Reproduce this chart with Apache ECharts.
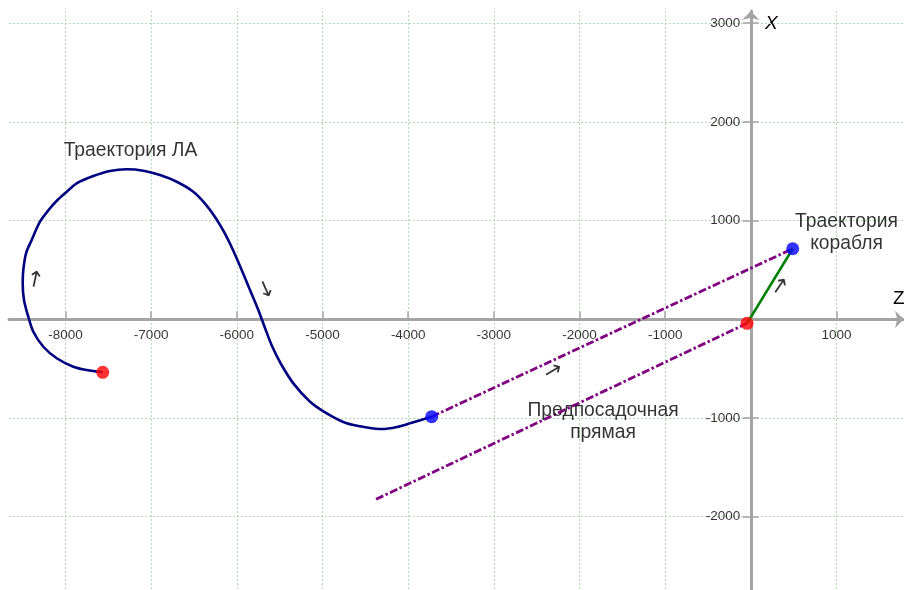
<!DOCTYPE html>
<html><head><meta charset="utf-8">
<script src="https://cdn.jsdelivr.net/npm/echarts@6/dist/echarts.min.js"></script>
<style>html,body{margin:0;padding:0;background:#fff}#c{width:904px;height:590px}</style>
</head><body><div id="c"></div>
<script>
// ---- Data (Z horizontal, X vertical) ----
// Aircraft trajectory ("Траектория ЛА")
const laZ = [-7565,-7752,-7908,-8102,-8258,-8375,-8434,-8484,-8499,-8492,-8460,-8394,-8297,-8180,-8087,-7985,-7869,-7675,-7480,-7285,-7091,-6896,-6701,-6508,-6371,-6254,-6149,-6050,-5943,-5846,-5749,-5671,-5589,-5484,-5340,-5145,-4950,-4717,-4480,-4305,-4130,-3978,-3725];
const laX = [-537,-514,-480,-395,-278,-126,26,196,365,500,669,804,989,1125,1214,1293,1378,1452,1503,1520,1506,1462,1394,1293,1173,1037,885,712,500,297,94,-88,-271,-453,-649,-835,-953,-1054,-1096,-1112,-1091,-1054,-987];
// Ship trajectory ("Траектория корабля")
const shipZ = [-44, 489];
const shipX = [-41, 715];
// Glide path lines ("Предпосадочная прямая")
const glideUpperZ = [-3725, 489];
const glideUpperX = [-987, 715];
const glideLowerZ = [-4375, -44];
const glideLowerX = [-1824, -41];
// Start (red) and end (blue) points
const startZ = [-7565, -44];
const startX = [-537, -41];
const endZ = [-3725, 489];
const endX = [-987, 715];
// Text annotations
const noteText = ['Траектория ЛА', 'Траектория\nкорабля', 'Предпосадочная\nпрямая'];
const noteZ = [-7241, 1117, -1725];
const noteX = [1706, 878, -1038];
// Direction arrows
const arrowText = ['↑', '↓', '→', '→'];
const arrowZ = [-8359, -5651, -2305, 347];
const arrowX = [388, 289, -531, 334];
const arrowRotate = [-12, 24, 31, 56];
// Axis ticks and tick labels
const zTicks = [-8000,-7000,-6000,-5000,-4000,-3000,-2000,-1000,0,1000];
const zLabels = ['-8000','-7000','-6000','-5000','-4000','-3000','-2000','-1000','1000'];
const xTicks = [-2000,-1000,0,1000,2000,3000];
const xLabels = ['-2000','-1000','1000','2000','3000'];
const zMin = -8659, zMax = 1788, xMin = -2743, xMax = 3124;

const pairs = (a, b) => a.map((v, i) => [v, b[i]]);
const font = '"Liberation Sans", Arial, sans-serif';
const axisGrey = '#a4a4a4';
const gridGreen = '#b2dcb2';
const labelCol = '#000';
const hidden = {color: 'rgba(0,0,0,0)'};
const tickFont = {color: labelCol, fontSize: 13.5, fontFamily: font};

const chart = echarts.init(document.getElementById('c'), null, {renderer: 'canvas'});
const option = {
  animation: false,
  backgroundColor: '#fff',
  grid: {left: 9, right: 0, top: 11, bottom: 0, outerBoundsMode: 'none', containLabel: false},
  xAxis: {
    type: 'value', min: zMin, max: zMax,
    axisLine: {onZero: true, symbol: ['none', 'arrow'], symbolSize: [13, 9], lineStyle: {color: axisGrey, width: 3}},
    axisTick: {show: true, inside: true, length: 8, customValues: zTicks, lineStyle: {color: axisGrey, width: 1.5}},
    axisLabel: {show: false},
    splitLine: {show: true, lineStyle: {type: [2, 2], color: gridGreen, width: 1}}
  },
  yAxis: [{
    type: 'value', min: xMin, max: xMax,
    axisLine: {onZero: true, symbol: ['none', 'arrow'], symbolSize: [13, 9], lineStyle: {color: axisGrey, width: 3}},
    axisTick: {show: true, inside: false, length: 8, customValues: xTicks, lineStyle: {color: axisGrey, width: 1.5}},
    axisLabel: {show: false},
    splitLine: {show: true, lineStyle: {type: [2, 2], color: gridGreen, width: 1}}
  }, {
    type: 'value', min: xMin, max: xMax, position: 'left', offset: -741.8,
    axisLine: {show: false, onZero: false},
    axisTick: {show: true, inside: true, length: 8, customValues: xTicks, lineStyle: {color: axisGrey, width: 1.5}},
    axisLabel: {show: false},
    splitLine: {show: false}
  }],
  series: [
    {type: 'line', data: pairs(glideUpperZ, glideUpperX), symbol: 'none', lineStyle: {color: '#800080', width: 2.8, type: [8, 2.5, 2.5, 2.5], cap: 'butt'}, z: 2},
    {type: 'line', data: pairs(glideLowerZ, glideLowerX), symbol: 'none', lineStyle: {color: '#800080', width: 2.8, type: [8, 2.5, 2.5, 2.5], cap: 'butt'}, z: 2},
    {type: 'line', data: pairs(shipZ, shipX), symbol: 'none', lineStyle: {color: '#008000', width: 2.6}, z: 3},
    {type: 'line', data: pairs(laZ, laX), symbol: 'none', smooth: 0.3, lineStyle: {color: '#000080', width: 2.6}, z: 3},
    {type: 'scatter', data: pairs(startZ, startX), symbolSize: 13, itemStyle: {color: '#ff0000'}, z: 5},
    {type: 'scatter', data: pairs(endZ, endX), symbolSize: 13, itemStyle: {color: '#0000ff'}, z: 5},
    // tick labels placed on the axes through the scales
    {type: 'scatter', silent: true, symbolSize: 1, itemStyle: hidden, z: 4,
      data: zLabels.map(t => ({name: t, value: [Number(t), 0]})),
      label: Object.assign({show: true, position: 'bottom', distance: 8, formatter: p => p.name}, tickFont)},
    {type: 'scatter', silent: true, symbolSize: 1, itemStyle: hidden, z: 4,
      data: xLabels.map(t => ({name: t, value: [0, Number(t)]})),
      label: Object.assign({show: true, position: 'left', distance: 10, formatter: p => p.name}, tickFont)},
    {type: 'scatter', silent: true, symbolSize: 1, itemStyle: hidden, z: 6,
      data: noteText.map((t, i) => ({name: t, value: [noteZ[i], noteX[i]]})),
      label: {show: true, position: 'inside', formatter: p => p.name, color: '#000', fontSize: 19.3, lineHeight: 22, fontFamily: font, align: 'center', verticalAlign: 'middle'}},
    {type: 'scatter', silent: true, symbolSize: 1, itemStyle: hidden, z: 6,
      data: arrowText.map((t, i) => ({name: t, value: [arrowZ[i], arrowX[i]], label: {rotate: arrowRotate[i]}})),
      label: {show: true, position: 'inside', formatter: p => p.name, color: '#000', fontSize: 22, fontFamily: '"DejaVu Sans", sans-serif', align: 'center', verticalAlign: 'middle'}}
  ],
  graphic: [
    {type: 'text', left: 765, top: 14, style: {text: 'X', font: 'italic 19px "Liberation Sans", Arial, sans-serif', fill: '#000'}},
    {type: 'text', left: 893, top: 289, style: {text: 'Z', font: '19px "Liberation Sans", Arial, sans-serif', fill: '#000'}}
  ]
};
chart.setOption(option);
</script>
</body></html>
